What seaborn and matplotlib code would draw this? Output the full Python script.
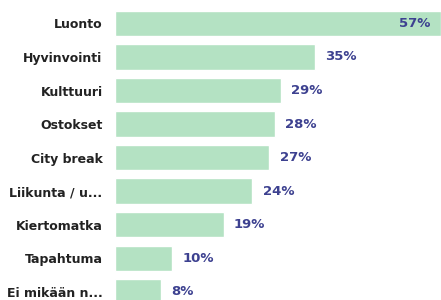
import matplotlib
matplotlib.use("Agg")
import matplotlib.pyplot as plt
import seaborn as sns
import pandas as pd

# Data
categories = ["Luonto", "Hyvinvointi", "Kulttuuri", "Ostokset", "City break",
              "Liikunta / u...", "Kiertomatka", "Tapahtuma", "Ei mikään n..."]
values = [57, 35, 29, 28, 27, 24, 19, 10, 8]

df = pd.DataFrame({"kategoria": categories, "osuus": values})

sns.set_style("white")
plt.rcParams["font.family"] = ["DejaVu Sans"]

fig = plt.figure(figsize=(4.41, 3.0), dpi=100)
ax = fig.add_axes([115 / 441, 0, 1 - 115 / 441, 1])

sns.barplot(data=df, x="osuus", y="kategoria", color="#b4e2c3",
            saturation=1, width=0.75, ax=ax)

ax.set_xlim(0, max(values))
ax.set_ylim(8.25, -0.70)

for i, v in enumerate(values):
    if v == max(values):
        ax.text(v - 1.8, i, f"{v}%", ha="right", va="center",
                fontsize=9.5, fontweight="bold", color="#3d4190")
    else:
        ax.text(v + 1.8, i, f"{v}%", ha="left", va="center",
                fontsize=9.5, fontweight="bold", color="#3d4190")

ax.set_xlabel("")
ax.set_ylabel("")
ax.set_xticks([])
ax.tick_params(axis="y", length=0, pad=9)
for lab in ax.get_yticklabels():
    lab.set_fontsize(9)
    lab.set_fontweight("bold")
    lab.set_color("#222222")
sns.despine(ax=ax, left=True, bottom=True)

fig.savefig("out.png", dpi=100)
